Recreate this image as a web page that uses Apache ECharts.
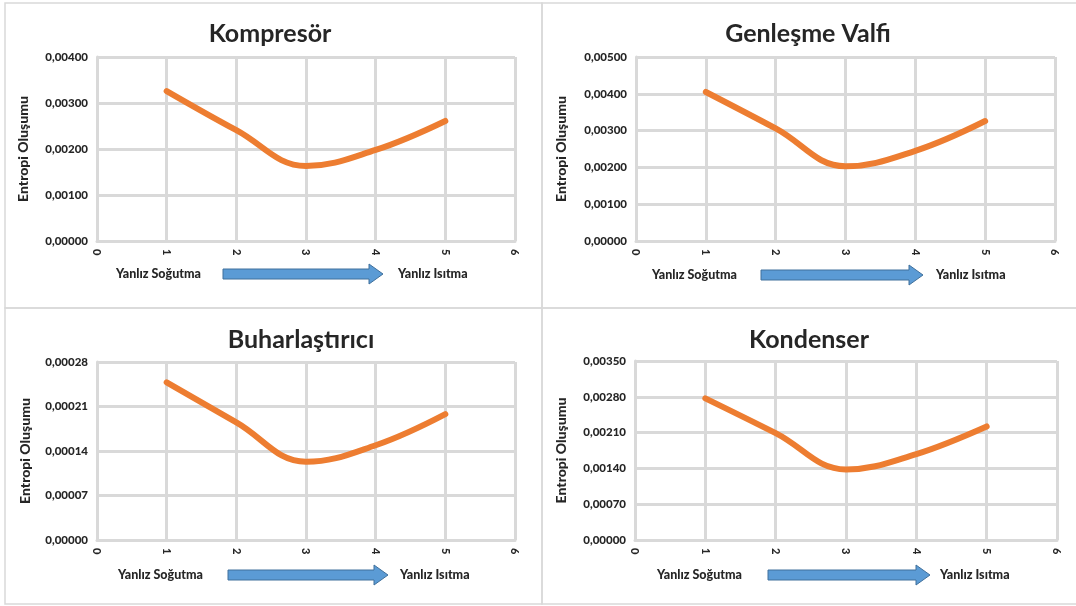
<!DOCTYPE html>
<html>
<head>
<meta charset="utf-8">
<script src="https://cdn.jsdelivr.net/npm/echarts@6/dist/echarts.min.js"></script>
<style>
  html, body { margin: 0; padding: 0; background: #ffffff; }
  #chart { width: 1076px; height: 606px; }
</style>
</head>
<body>
<div id="chart"></div>
<script>
// Operating points from pure cooling (1) to pure heating (5)
const xValues = [1, 2, 3, 4, 5];

// Entropy generation per component
const kompresor      = [0.00326, 0.00241, 0.00163, 0.00198, 0.00261];
const genlesmeValfi  = [0.00405, 0.00306, 0.00203, 0.00245, 0.00326];
const buharlastirici = [0.000248, 0.000185, 0.000123, 0.000149, 0.000198];
const kondenser      = [0.00277, 0.00209, 0.00138, 0.00168, 0.00222];

// Panel titles and y-axis tick steps / maxima
const panelTitles = ['Kompresör', 'Genleşme Valfi', 'Buharlaştırıcı', 'Kondenser'];
const yMax      = [0.004, 0.005, 0.00028, 0.0035];
const yInterval = [0.001, 0.001, 0.00007, 0.0007];

const yAxisName = 'Entropi Oluşumu';
const leftNote = 'Yanlız Soğutma';
const rightNote = 'Yanlız Isıtma';

const seriesData = [kompresor, genlesmeValfi, buharlastirici, kondenser];

const FONT = 'Lato, "Open Sans", sans-serif';
const TEXT = '#262626';
const GRIDC = '#d9d9d9';

const grids = [
  { left: 97,  top: 57,  width: 418, height: 184 },
  { left: 636, top: 57,  width: 419, height: 184 },
  { left: 97,  top: 362, width: 418, height: 178 },
  { left: 635, top: 361, width: 422, height: 179 }
];
const titlePos = [[265, 16], [803, 16], [296, 322], [804, 322]];
const nameGaps = [67, 68, 65, 67];

// Annotation rows under each x axis: left text x, arrow x-range, right text x, row y
const notes = [
  { sx: 116, ax0: 223, ax1: 383, rx: 398, y: 274 },
  { sx: 652, ax0: 761, ax1: 923, rx: 936, y: 275 },
  { sx: 118, ax0: 228, ax1: 388, rx: 400, y: 575 },
  { sx: 657, ax0: 768, ax1: 930, rx: 940, y: 575 }
];

const fmt = v => v.toFixed(5).replace('.', ',');

const xAxes = grids.map((g, i) => ({
  type: 'value', gridIndex: i, min: 0, max: 6, interval: 1,
  axisLine: { show: true, lineStyle: { color: GRIDC, width: 3 } },
  axisTick: { show: false },
  splitLine: { show: true, lineStyle: { color: GRIDC, width: 3 } },
  axisLabel: { rotate: -90, margin: 8, color: TEXT, fontFamily: FONT, fontWeight: 900, fontSize: 11 }
}));

const yAxes = grids.map((g, i) => ({
  type: 'value', gridIndex: i, min: 0, max: yMax[i], interval: yInterval[i],
  name: yAxisName, nameLocation: 'middle', nameGap: nameGaps[i],
  nameTextStyle: { color: TEXT, fontFamily: FONT, fontWeight: 900, fontSize: 14 },
  axisLine: { show: true, lineStyle: { color: GRIDC, width: 3 } },
  axisTick: { show: false },
  splitLine: { show: true, lineStyle: { color: GRIDC, width: 3 } },
  axisLabel: { margin: 9, color: TEXT, fontFamily: FONT, fontWeight: 900, fontSize: 11.5,
               formatter: fmt }
}));

const series = seriesData.map((vals, i) => ({
  type: 'line', xAxisIndex: i, yAxisIndex: i,
  data: xValues.map((x, k) => [x, vals[k]]),
  smooth: 0.4, showSymbol: false,
  lineStyle: { color: '#ED7D31', width: 6, cap: 'round' }
}));

const titles = panelTitles.map((t, i) => ({
  text: t, left: titlePos[i][0], top: titlePos[i][1], textAlign: 'center',
  textStyle: { color: TEXT, fontFamily: FONT, fontWeight: 'bold', fontSize: 25 }
}));

const graphics = [];
// panel frames
[[5, 3, 537, 305], [542, 3, 540, 305], [5, 308, 537, 296], [542, 308, 540, 296]].forEach(r => {
  graphics.push({ type: 'rect', shape: { x: r[0], y: r[1], width: r[2], height: r[3] },
                  style: { fill: 'none', stroke: GRIDC, lineWidth: 1.5 }, z: 0 });
});
notes.forEach(n => {
  graphics.push({ type: 'text', x: n.sx, y: n.y,
    style: { text: leftNote, fill: TEXT, font: '900 12.5px ' + FONT, textVerticalAlign: 'middle' } });
  graphics.push({ type: 'text', x: n.rx, y: n.y,
    style: { text: rightNote, fill: TEXT, font: '900 12.5px ' + FONT, textVerticalAlign: 'middle' } });
  const h = n.ax1 - 14;
  graphics.push({ type: 'polygon',
    shape: { points: [[n.ax0, n.y - 5], [h, n.y - 5], [h, n.y - 10], [n.ax1, n.y],
                      [h, n.y + 10], [h, n.y + 5], [n.ax0, n.y + 5]] },
    style: { fill: '#5B9BD5', stroke: '#41719C', lineWidth: 1 } });
});

const chart = echarts.init(document.getElementById('chart'), null, { renderer: 'canvas' });
chart.setOption({
  backgroundColor: '#ffffff',
  animation: false,
  title: titles,
  grid: grids,
  xAxis: xAxes,
  yAxis: yAxes,
  series: series,
  graphic: graphics
});
</script>
</body>
</html>
